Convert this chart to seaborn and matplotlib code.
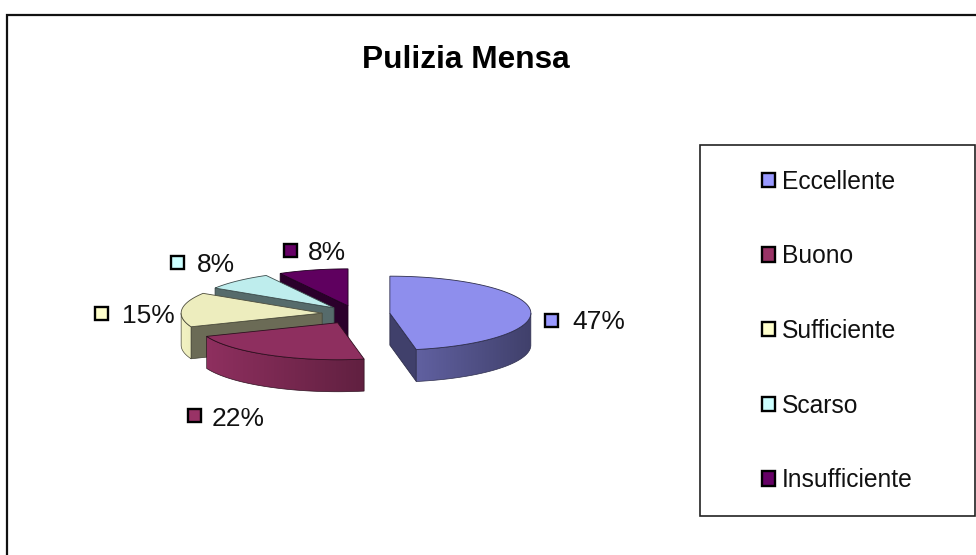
import numpy as np
import matplotlib
matplotlib.use("Agg")
import matplotlib.pyplot as plt
from matplotlib.patches import Polygon, Rectangle, Patch
import seaborn as sns

# ---- data ----
categories = ["Eccellente", "Buono", "Sufficiente", "Scarso", "Insufficiente"]
percent = [47, 22, 15, 8, 8]
title = "Pulizia Mensa"

# ---- style / layout ----
sns.set_theme(style="white")
plt.rcParams["font.family"] = ["Liberation Sans", "DejaVu Sans"]
palette = sns.color_palette(["#9999FF", "#993366", "#FFFFCC", "#CCFFFF", "#660066"])

CX, CY, RX, RY, DEPTH = 356.0, 314.0, 141.0, 37.0, 32.0
explode = [34.0, 38.0, 34.0, 32.0, 32.0]
label_box = [(551.5, 320, 572, 322), (194, 415, 212, 419), (101, 313, 122, 316),
             (177.5, 262, 197, 265), (290, 250.5, 308, 253)]

fig = plt.figure(figsize=(9.76, 5.55), dpi=100, facecolor="white")
ax = fig.add_axes([0, 0, 1, 1])
ax.set_xlim(0, 976)
ax.set_ylim(555, 0)
ax.axis("off")

# outer chart frame: only left and top edges are inside the picture
ax.plot([6.5, 6.5, 976], [555, 14.5, 14.5], color="#111111", lw=1.6, solid_joinstyle="miter", zorder=1)
ax.text(466, 59.5, title, fontsize=22.8, fontweight="bold", ha="center", va="center", color="black")


def shade(col, k):
    return tuple(min(1.0, c * k) for c in col)


def side_factor(s):
    # horizontal light falloff on the rim, s = sin(theta), from left (-1) to right (+1)
    return np.interp(s, [-1.0, 0.19, 1.0], [0.95, 0.63, 0.42])


def px(ox, oy, th):
    return ox + RX * np.sin(th), oy - RY * np.cos(th)


fractions = np.array(percent, dtype=float) / float(np.sum(percent))
edges = np.concatenate([[0.0], np.cumsum(fractions)]) * 2 * np.pi

# painter's order: far slices first
order = [4, 3, 2, 1, 0]
for z, i in enumerate(order):
    t0, t1 = edges[i], edges[i + 1]
    mid = 0.5 * (t0 + t1)
    ox = CX + explode[i] * np.sin(mid)
    oy = CY - explode[i] * (RY / RX) * np.cos(mid)
    col = palette[i]
    base_z = 3 + z * 3

    # flat cut faces that look toward the viewer
    for th, visible in ((t0, np.sin(t0) < -1e-6), (t1, np.sin(t1) > 1e-6)):
        if visible:
            x, y = px(ox, oy, th)
            ax.add_patch(Polygon([(ox, oy), (x, y), (x, y + DEPTH), (ox, oy + DEPTH)], closed=True,
                                 facecolor=shade(col, 0.42), edgecolor=shade(col, 0.25), lw=0.5, zorder=base_z))

    # curved rim, a horizontal gradient clipped to the rim outline
    a = max(t0, np.pi / 2)
    b = min(t1, 3 * np.pi / 2)
    if b > a:
        th = np.linspace(a, b, 120)
        xa, ya = px(ox, oy, th)
        rim = np.column_stack([np.r_[xa, xa[::-1]], np.r_[ya, ya[::-1] + DEPTH]])
        x_lo, x_hi = xa.min(), xa.max()
        xs = np.linspace(x_lo, x_hi, 256)
        grad = np.array([[shade(col, side_factor((v - ox) / RX)) for v in xs]])
        img = ax.imshow(grad, extent=(x_lo, x_hi, rim[:, 1].max(), rim[:, 1].min()),
                        aspect="auto", interpolation="bilinear", zorder=base_z + 1)
        outline = Polygon(rim, closed=True, facecolor="none", edgecolor=shade(col, 0.3), lw=0.5,
                          zorder=base_z + 1.5)
        ax.add_patch(outline)
        img.set_clip_path(outline)

    # top face
    th = np.linspace(t0, t1, 120)
    xt, yt = px(ox, oy, th)
    ax.add_patch(Polygon(np.column_stack([np.r_[ox, xt], np.r_[oy, yt]]), closed=True,
                         facecolor=shade(col, 0.93), edgecolor=shade(col, 0.3), lw=0.6, zorder=base_z + 2))

ax.set_xlim(0, 976)
ax.set_ylim(555, 0)

# data labels with their colour keys
for i, (kx, ky, tx, ty) in enumerate(label_box):
    ax.add_patch(Rectangle((kx - 6.5, ky - 6.5), 13, 13, facecolor=palette[i], edgecolor="black", lw=1.7, zorder=30))
    ax.text(tx, ty, f"{percent[i]}%", fontsize=19, ha="left", va="center", color="#111111", zorder=30)

# legend box and legend
ax.add_patch(Rectangle((699.5, 144.5), 275.5, 371.5, facecolor="white", edgecolor="#222222", lw=1.2, zorder=2))
handles = [Patch(facecolor=palette[i], edgecolor="black", lw=1.7, label=categories[i]) for i in range(5)]
leg = ax.legend(handles=handles, loc="center left", bbox_to_anchor=(762 / 976, 1 - 331 / 555),
                frameon=False, fontsize=17.7, handlelength=0.52, handleheight=0.52,
                handletextpad=0.3, labelspacing=2.06, borderpad=0, borderaxespad=0,
                labelcolor="#111111")
leg.set_zorder(31)

fig.savefig("out.png", dpi=100, facecolor="white")
